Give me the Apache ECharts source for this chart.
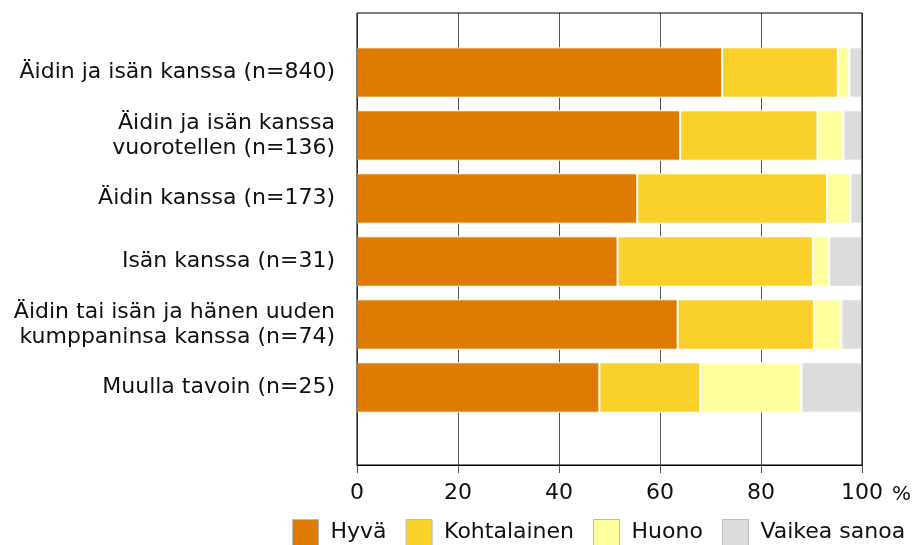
<!DOCTYPE html>
<html>
<head>
<meta charset="utf-8">
<script src="https://cdn.jsdelivr.net/npm/echarts@6/dist/echarts.min.js"></script>
<style>
html,body{margin:0;padding:0;background:#fff;}
#c{width:915px;height:545px;}
</style>
</head>
<body>
<div id="c"></div>
<script>
const categories = [
  'Äidin ja isän kanssa (n=840)',
  'Äidin ja isän kanssa\nvuorotellen (n=136)',
  'Äidin kanssa (n=173)',
  'Isän kanssa (n=31)',
  'Äidin tai isän ja hänen uuden\nkumppaninsa kanssa (n=74)',
  'Muulla tavoin (n=25)'
];
const seriesNames = ['Hyvä', 'Kohtalainen', 'Huono', 'Vaikea sanoa'];
const hyva        = [72.3, 64.0, 55.5, 51.6, 63.5, 48.0];
const kohtalainen = [22.9, 27.2, 37.6, 38.7, 27.0, 20.0];
const huono       = [2.3, 5.1, 4.6, 3.2, 5.4, 20.0];
const vaikea      = [2.5, 3.7, 2.3, 6.5, 4.1, 12.0];
const xTicks = [0, 20, 40, 60, 80, 100];
const unitLabel = '%';

const colors = ['#DE7B00', '#FAD02A', '#FFFF9E', '#DCDCDC'];
const FONT = 'DejaVu Sans';
const values = [hyva, kohtalainen, huono, vaikea];

const chart = echarts.init(document.getElementById('c'), null, {renderer: 'canvas'});
chart.setOption({
  animation: false,
  backgroundColor: '#fff',
  textStyle: {fontFamily: FONT, color: '#000'},
  grid: [
    {left: 357, top: 13, width: 505, height: 452, show: true, borderColor: '#000', borderWidth: 1, backgroundColor: 'transparent', z: 5},
    {left: 357, top: 41, width: 505, height: 378}
  ],
  xAxis: [
    {
      gridIndex: 0, type: 'value', min: xTicks[0], max: xTicks[xTicks.length - 1], interval: 20,
      axisLine: {show: true, lineStyle: {color: '#000', width: 1}},
      axisTick: {show: true, inside: false, length: 8, lineStyle: {color: '#555'}},
      axisLabel: {fontSize: 22, fontFamily: FONT, color: '#111', margin: 17},
      splitLine: {show: true, lineStyle: {color: '#555', width: 1}}
    },
    {gridIndex: 1, type: 'value', min: 0, max: 100, show: false}
  ],
  yAxis: [
    {gridIndex: 0, type: 'value', min: 0, max: 1, show: false},
    {
      gridIndex: 1, type: 'category', data: categories, inverse: true,
      axisLine: {show: false}, axisTick: {show: false},
      axisLabel: {fontSize: 22, fontFamily: FONT, color: '#111', margin: 22, lineHeight: 25, align: 'right'}
    }
  ],
  legend: {
    left: 292, top: 519, padding: 0, itemWidth: 26, itemHeight: 26, itemGap: 19, icon: 'rect',
    itemStyle: {borderColor: '#bbb', borderWidth: 1},
    textStyle: {fontSize: 22, fontFamily: FONT, color: '#111', padding: [0, 0, 0, 7]},
    data: seriesNames
  },
  graphic: [
    {type: 'text', left: 892, top: 485, style: {text: unitLabel, font: '20px "DejaVu Sans"', fill: '#111'}}
  ],
  series: seriesNames.map((name, i) => ({
    name: name, type: 'bar', stack: 'total', xAxisIndex: 1, yAxisIndex: 1,
    barCategoryGap: '20%',
    itemStyle: {color: colors[i], borderColor: '#fff', borderWidth: 1},
    data: values[i]
  }))
});
</script>
</body>
</html>
